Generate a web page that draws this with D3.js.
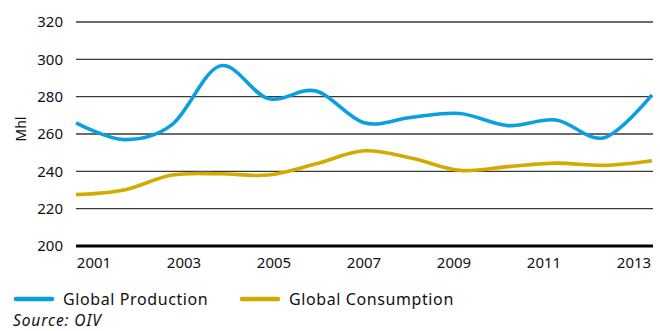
<!DOCTYPE html>
<html>
<head>
<meta charset="utf-8">
<script src="https://cdn.jsdelivr.net/npm/d3@7/dist/d3.min.js"></script>
<style>
  html, body { margin: 0; padding: 0; background: #fff; }
  svg { display: block; font-family: "Noto Sans", "Open Sans", sans-serif; }
</style>
</head>
<body>
<svg id="chart" width="660" height="331"></svg>
<script>
// Wine production and consumption worldwide, million hectolitres
const years = [2001, 2002, 2003, 2004, 2005, 2006, 2007, 2008, 2009, 2010, 2011, 2012, 2013];
const production = [266, 257, 265, 296.5, 279, 283, 266, 269, 271, 264.5, 267.5, 258, 281];
const consumption = [227.5, 230, 238, 238.7, 238, 244, 251, 247, 240.5, 242.5, 244.4, 243.2, 245.7];
const yTicks = [200, 220, 240, 260, 280, 300, 320];
const xTickYears = [2001, 2003, 2005, 2007, 2009, 2011, 2013];
const seriesNames = ["Global Production", "Global Consumption"];
const seriesColors = ["#0a9fe0", "#d3ab00"];

const svg = d3.select("#chart");

const x = d3.scaleLinear().domain([2001, 2013]).range([76, 652]);
const y = d3.scaleLinear().domain([200, 320]).range([246, 22]);
// year labels sit on their own evenly spaced band
const xLabel = d3.scalePoint().domain(years).range([94, 634]);

// horizontal gridlines
svg.append("g")
  .selectAll("line")
  .data(yTicks.filter(t => t > 200))
  .join("line")
  .attr("x1", 76).attr("x2", 653)
  .attr("y1", d => y(d)).attr("y2", d => y(d))
  .attr("stroke", "#3a3a3a")
  .attr("stroke-width", 1.3);

// baseline
svg.append("line")
  .attr("x1", 76).attr("x2", 653)
  .attr("y1", y(200)).attr("y2", y(200))
  .attr("stroke", "#000")
  .attr("stroke-width", 3);

// y tick labels
svg.append("g")
  .selectAll("text")
  .data(yTicks)
  .join("text")
  .attr("x", 63)
  .attr("y", d => y(d))
  .attr("dy", "0.36em")
  .attr("text-anchor", "end")
  .attr("font-size", 15)
  .attr("fill", "#111")
  .text(d => d);

// x tick labels
svg.append("g")
  .selectAll("text")
  .data(xTickYears)
  .join("text")
  .attr("x", d => xLabel(d))
  .attr("y", 268)
  .attr("text-anchor", "middle")
  .attr("font-size", 15)
  .attr("fill", "#111")
  .text(d => d);

// axis title
svg.append("text")
  .attr("transform", "translate(26,129) rotate(-90)")
  .attr("text-anchor", "middle")
  .attr("font-size", 14)
  .attr("fill", "#111")
  .text("Mhl");

const line = d3.line()
  .x((d, i) => x(years[i]))
  .y(d => y(d))
  .curve(d3.curveCardinal.tension(0));

[production, consumption].forEach((vals, i) => {
  svg.append("path")
    .datum(vals)
    .attr("d", line)
    .attr("fill", "none")
    .attr("stroke", seriesColors[i])
    .attr("stroke-width", 3.6)
    .attr("stroke-linejoin", "round");
});

// legend
const legendX = [14, 240];
const legend = svg.append("g");
seriesNames.forEach((name, i) => {
  legend.append("line")
    .attr("x1", legendX[i] + 2).attr("x2", legendX[i] + 38)
    .attr("y1", 299).attr("y2", 299)
    .attr("stroke", seriesColors[i])
    .attr("stroke-width", 4.5)
    .attr("stroke-linecap", "round");
  legend.append("text")
    .attr("x", legendX[i] + 49)
    .attr("y", 305)
    .attr("font-size", 16)
    .attr("letter-spacing", 0.6)
    .attr("fill", "#111")
    .text(name);
});

svg.append("text")
  .attr("x", 13)
  .attr("y", 326)
  .attr("font-size", 15.5)
  .attr("letter-spacing", 0.9)
  .attr("font-style", "italic")
  .attr("fill", "#111")
  .text("Source: OIV");
</script>
</body>
</html>
